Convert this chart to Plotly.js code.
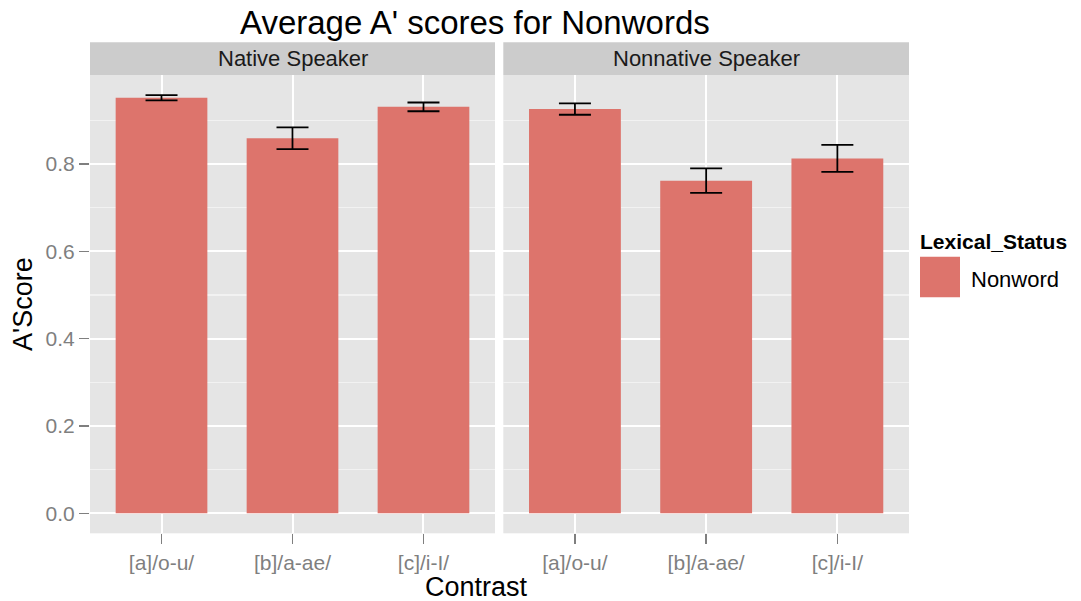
<!DOCTYPE html>
<html>
<head>
<meta charset="utf-8">
<script src="https://cdn.plot.ly/plotly-3.0.1.min.js"></script>
<style>html,body{margin:0;padding:0;background:#fff;}#chart{width:1081px;height:601px;}</style>
</head>
<body>
<div id="chart"></div>
<script>
// ---- data ----
const categories = ['[a]/o-u/', '[b]/a-ae/', '[c]/i-I/'];
const facets = ['Native Speaker', 'Nonnative Speaker'];
const nativeScores = [0.952, 0.859, 0.931];
const nativeErr = [0.006, 0.025, 0.010];
const nonnativeScores = [0.926, 0.762, 0.813];
const nonnativeErr = [0.013, 0.028, 0.031];
const yTickVals = [0, 0.2, 0.4, 0.6, 0.8];
const yTickText = ['0.0', '0.2', '0.4', '0.6', '0.8'];
const yMinorVals = [0.1, 0.3, 0.5, 0.7, 0.9];
const legendTitle = 'Lexical_Status';
const legendLabel = 'Nonword';

// ---- layout geometry (pixels) ----
const W = 1081, H = 601;
const FONT = 'Liberation Sans, Arial, Helvetica, sans-serif';
const BAR = '#dd746c';
const px = v => v / W;
const py = v => (H - v) / H;
const p1 = [90, 495], p2 = [503.3, 909];
const panelTop = 75, panelBottom = 533.3, stripTop = 42.3;

function barTrace(y, err, xa, ya) {
  return {
    type: 'bar', x: categories, y: y, xaxis: xa, yaxis: ya, width: 0.7,
    marker: {color: BAR, line: {width: 0}},
    error_y: {type: 'data', array: err, visible: true, color: '#000', thickness: 1.8, width: 16},
    showlegend: false, hoverinfo: 'skip'
  };
}

const data = [
  barTrace(nativeScores, nativeErr, 'x', 'y'),
  barTrace(nonnativeScores, nonnativeErr, 'x2', 'y2')
];

const xCommon = {
  type: 'category', range: [-0.546, 2.546], showgrid: true, gridcolor: '#ffffff', gridwidth: 2,
  ticks: 'outside', ticklen: 10, tickwidth: 1.5, tickcolor: '#7f7f7f',
  tickfont: {family: FONT, size: 21, color: '#7f7f7f'},
  zeroline: false, showline: false, fixedrange: true
};
const yCommon = {
  range: [-0.0458, 1.004], domain: [py(panelBottom), py(panelTop)],
  tickmode: 'array', tickvals: yTickVals, ticktext: yTickText,
  showgrid: true, gridcolor: '#ffffff', gridwidth: 2,
  minor: {tickmode: 'array', tickvals: yMinorVals, showgrid: true, gridcolor: '#f2f2f2', gridwidth: 1.2, ticks: ''},
  zeroline: false, showline: false, fixedrange: true,
  tickfont: {family: FONT, size: 21, color: '#7f7f7f'}
};

const layout = {
  width: W, height: H,
  margin: {l: 0, r: 0, t: 0, b: 0},
  paper_bgcolor: '#ffffff', plot_bgcolor: '#e5e5e5',
  font: {family: FONT},
  showlegend: false,
  xaxis: Object.assign({}, xCommon, {domain: [px(p1[0]), px(p1[1])], anchor: 'y'}),
  xaxis2: Object.assign({}, xCommon, {domain: [px(p2[0]), px(p2[1])], anchor: 'y2'}),
  yaxis: Object.assign({}, yCommon, {anchor: 'x', ticks: 'outside', ticklen: 10, tickwidth: 1.5, tickcolor: '#7f7f7f'}),
  yaxis2: Object.assign({}, yCommon, {anchor: 'x2', matches: 'y', showticklabels: false, ticks: ''}),
  shapes: [
    {type: 'rect', xref: 'paper', yref: 'paper', x0: px(p1[0]), x1: px(p1[1]), y0: py(panelTop), y1: py(stripTop), fillcolor: '#cccccc', line: {width: 0}, layer: 'below'},
    {type: 'rect', xref: 'paper', yref: 'paper', x0: px(p2[0]), x1: px(p2[1]), y0: py(panelTop), y1: py(stripTop), fillcolor: '#cccccc', line: {width: 0}, layer: 'below'},
    {type: 'rect', xref: 'paper', yref: 'paper', x0: px(920), x1: px(960), y0: py(297.3), y1: py(256.7), fillcolor: BAR, line: {width: 0}}
  ],
  annotations: [
    {text: "Average A' scores for Nonwords", xref: 'paper', yref: 'paper', x: px(475), y: py(23), xanchor: 'center', yanchor: 'middle', showarrow: false, font: {family: FONT, size: 33, color: '#000'}},
    {text: facets[0], xref: 'paper', yref: 'paper', x: px((p1[0] + p1[1]) / 2), y: py(58.5), xanchor: 'center', yanchor: 'middle', showarrow: false, font: {family: FONT, size: 22, color: '#1a1a1a'}},
    {text: facets[1], xref: 'paper', yref: 'paper', x: px((p2[0] + p2[1]) / 2), y: py(58.5), xanchor: 'center', yanchor: 'middle', showarrow: false, font: {family: FONT, size: 22, color: '#1a1a1a'}},
    {text: 'Contrast', xref: 'paper', yref: 'paper', x: px(476), y: py(587), xanchor: 'center', yanchor: 'middle', showarrow: false, font: {family: FONT, size: 27, color: '#000'}},
    {text: "A'Score", xref: 'paper', yref: 'paper', x: px(23), y: py(304), xanchor: 'center', yanchor: 'middle', textangle: -90, showarrow: false, font: {family: FONT, size: 27, color: '#000'}},
    {text: '<b>' + legendTitle + '</b>', xref: 'paper', yref: 'paper', x: px(918), y: py(241), xanchor: 'left', yanchor: 'middle', showarrow: false, font: {family: FONT, size: 21, color: '#000'}},
    {text: legendLabel, xref: 'paper', yref: 'paper', x: px(969), y: py(279), xanchor: 'left', yanchor: 'middle', showarrow: false, font: {family: FONT, size: 22, color: '#000'}}
  ]
};

Plotly.newPlot('chart', data, layout, {staticPlot: true, displayModeBar: false});
</script>
</body>
</html>
